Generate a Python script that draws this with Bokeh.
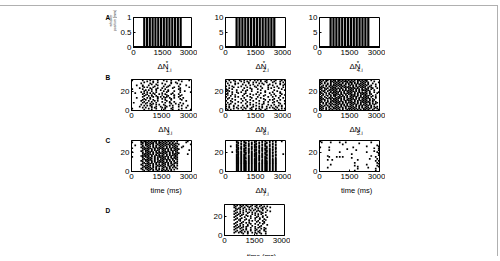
from bokeh.plotting import figure
from bokeh.layouts import column, row
from bokeh.models import Range1d, FixedTicker, Spacer
from bokeh.core.properties import value
from bokeh.embed import file_html
from bokeh.resources import INLINE

FONT = "Liberation Sans"

# ---------------- data ----------------
time_ticks = [0, 1500, 3000]
time_max = 3000
neuron_max = 32
raster_yticks = [0, 20]
bin_ms = 75  # each character of a raster row = one 75 ms bin

# whisker stimulation (row A)
pulse_onsets = [500, 645, 790, 935, 1080, 1225, 1370, 1515, 1660, 1805, 1950, 2095, 2240, 2385]
pulse_width = 110
amp_A1 = 1
amp_A2 = 10
amp_A3 = 10
yticks_A1 = [0, 0.5, 1]
yticks_A23 = [0, 5, 10]

panel_letters = ["A", "B", "C", "D"]
whisker_label = ["whisker", "position (mm)"]
time_label_text = "time (ms)"
delta_main = "ΔN"
subs_A = ["1,i", "2,i", "4,i"]
subs_B = ["3,i", "6,i", "5,i"]
sub_C2 = "7,i"

# spike rasters: rows from top neuron (31) down to neuron 1, 'o' = spike
raster_N3 = [
    "o......o.. ..o....o.. .o....o... .o......o.",
    ".......... o...o..... ...o...... ...o......",
    "........o. ....o..o.. ......o..o ..........",
    "......o... ..o....... o.....o... o.........",
    ".......... ...o..o... ..o....... ..o.......",
    "...o...o.. .o.....o.. .....o.... ......o...",
    ".......o.. .....o.... .o..o..... .o........",
    "........o. o...o..... ...o....o. ........o.",
    ".....o.... ..o....o.. o......o.. ..o.......",
    "o......o.. ...o..o... ..o....... .o........",
    ".........o .o....o..o ....o..... ..o.......",
    "........o. ...o...... .o..o...o. .....o....",
    "......o... o.....o... ...o...... ..o......o",
    "..o.....o. ..o.o..... o......o.. ..........",
    ".......o.. o....o..o. ..o...o... .o........",
    ".........o ...o...... o..o....o. ...o......",
    "........o. .o.o..o... ....o...o. ..o.......",
    ".......o.. ....o..o.o .o.o...... .o........",
    "...o...... o.o....o.. ..o..o..o. ....o.....",
    "........o. ..o....o.. o.....o... ..o.......",
    ".......o.o ....o..... ..o...o... ...o......",
    "......o... .o...o.o.. ...o...... ......o...",
    "........o. ...o...... o....o..o. ..........",
    ".o.....o.. o.....o... ..o..o.... ..o.......",
    ".........o ..o.o..... ......o..o ....o.....",
    "......o... ...o..o.o. .o........ .o........",
    "........o. o.o....... ..o..o.o.. ...o...o..",
    ".....o.... ...o..o..o ...o...... .o........",
    ".......o.o ...o.o.... o.o....o.. ......o...",
    "o......... .o....o... ..o...o... ...o......",
    "........o. ...o...... .o.....o.. .o.......o",
]

raster_N6 = [
    "..o..o...o ..o...o..o .o.o...o.. o..o...o.o",
    "o.....o... o...o..... ...o..o... ..o...o...",
    "...o...... ..o..o..o. o......o.. .o......o.",
    ".o....o.o. .....o.... ..o.o..... ...o..o...",
    "......o... .o......o. .....o...o ......o..o",
    "..o....... ...o..o... .o......o. .o......o.",
    "o...o..... o........o ...o...... ....o.....",
    ".....o..o. ....o..... o.......o. ..o.....o.",
    "..o....... ..o...o... ....o..... o....o....",
    "o...o..... .......o.. .o......o. .......o..",
    ".o.....o.. .o..o..... ...o...... ..o......o",
    "o.o....... ...o...o.. ......o... ....o.....",
    "....o..o.. o......... .o....o... .o....o...",
    ".o......o. ...o...... ...o.....o ......o...",
    "o...o..... ..o...o... o......... ..o....o..",
    ".o....o... ........o. ..o...o... o........o",
    "...o...... .o..o..... .....o.... ...o..o...",
    "o.....o.o. ......o... .o......o. .o........",
    "..o....... ..o....o.. ...o...... .....o..o.",
    ".o..o..... o......... o....o.... ..o.......",
    "......o... ...o..o... ......o..o .o....o...",
    "o..o...... .o......o. ..o....... ....o....o",
    "....o...o. ....o..... .....o..o. ..o.......",
    ".o........ o.....o... o......... .o...o....",
    "...o..o... ...o...... ..o..o.... ......o..o",
    "o.o....... ......o.o. ....o...o. ..o.......",
    ".....o..o. .o..o..... o......... o....o.o..",
    "o.o..o.... ....o...o. ..o.o..o.. ...o...o..",
    "..o....o.. o.o....o.. ....o....o .o..o.....",
    "o....o..o. ...o..o... o.o....o.. ..o....o.o",
    ".o.o...... .o.....o.. ...o..o... ...o.o....",
]

raster_N5 = [
    "o.o.oo.o.o o.oo.o.o.o .o.o.oo.o. oo..o.....",
    ".o..o..oo. o.o.o.ooo. o.o..o.o.o .o....o...",
    "o..o...o.o .o.o.o..o. oo.o.o..o. o.o......o",
    ".o.o.o.o.. o.o..o.o.o .o.o.o.o.o ..o..o....",
    "o....o.o.o .o.oo..o.o .o..o.o.o. o.o....o..",
    "..o.o..o.o o.o.o.o... o.o.o..o.o .o..o.....",
    ".o..o.o.o. .o.o.o.o.o ..o.o.o.o. o..o...o..",
    "o.o....o.o o...o.o.o. o.o..o.o.o ..o.o.....",
    ".o.o.o..o. o.o.o..o.o .o.o.o..o. o.o..o..o.",
    "o...o..o.o .o.o.o.o.. o.o.o.o.o. .o..o.....",
    ".o.o..o.o. o..o.o.o.o .o..o.o.oo o.o...o...",
    "..o..o.o.o .o.o..o.o. o.o.o.o... .o.o......",
    "o..o...o.o o.o.o.o..o .o.o..o.o. o..o..o..o",
    ".o..o.o.o. .o..o.o.o. o..o.o.o.o .o.o....o.",
    "o.o...o..o o.o.o..o.o .o.o.o..o. o...o.....",
    "..o.o..o.o .o.o.o.o.. o.o..o.o.o .o.o...o..",
    ".o...o.o.o o..o.o..o. .o.o.o.o.. o.o..o....",
    "o..o...o.. o.o.o.o.o. o.o.o..o.o .o..o..o..",
    ".o..o.o.o. .o.o..o.o. .o..o.o.o. o.o....o..",
    "o.o..o.o.o o.o.o.o..o o.o.o.o..o .o.o.o....",
    ".o.o...o.o .o..o.o.o. .o.o..o.o. o..o..o...",
    "o..o.o..o. o.o.o..o.o o..o.o.o.o .o.o.o....",
    ".o...o.o.o .o.o.o.o.. .o.o.o..o. o.o..o.o..",
    "o.o.o..o.. o.o..o.o.o o.o..o.o.o .o.o....o.",
    "..o.o.o.o. .o.o.o..o. .o.o.o.o.. o..o.o.o..",
    "o...o..o.o o.o.o.o.o. o.o.o..o.o .o.o..o...",
    ".o.o.o.o.. .o..o.o.o. .o..o.o.o. o.o.o.....",
    "o.o...o.o. o.o.o..o.o o.o.o.o.o. .o..o.o.o.",
    ".o..o.o..o .o.o.o.o.. .o.o..o.o. o.o.o..o..",
    "o.o.o..o.o o.o..o.o.o o.o.o.o..o .o.o..o.o.",
    ".o..o.o.o. .o.o.o..o. .o.o.o.o.o o.o..o...o",
]

raster_C1 = [
    "......o.oo .o.o.oo.o. o.o.o.o.o. o......o..",
    "o.....oo.o o.o.o.o.oo .o.o.o.o.. ......o...",
    ".......o.o .o.oo.o.o. o.o..o.o.o o.........",
    "......o..o o.o.o..o.o .o.oo.o.o. .o.......o",
    "..o....o.o .o..o.o.o. o.o..o.o.o ..........",
    ".......o.. o.o.o.o..o .o.o.o..o. o...o.....",
    "......o.o. .o..o.o.o. o..o.o.o.o ...o......",
    "o......o.o o.o..o.o.o .o.o..o.o. o.........",
    "........o. .o.o.o..o. o.o.o.o..o .o........",
    ".......o.o o..o.o.o.. .o..o.o.o. o.......o.",
    "......o..o .o.o..o.o. o.o.o..o.o ..........",
    "o......o.. o.o.o.o.o. .o.o.o.o.. o.........",
    ".......o.o .o..o..o.o o.o..o.o.o .o........",
    "........o. o.o.o.o.o. .o.o.o..o. o......o..",
    ".......o.o .o.o..o.o. o..o.o.o.o ..........",
    "......o.o. o..o.o.o.o .o.o..o.o. o.........",
    "o......o.o .o.o.o..o. o.o.o.o..o ..........",
    ".......o.. o.o..o.o.o .o..o.o.o. o.........",
    "........o. .o.o.o.o.. o.o.o..o.o ..........",
    ".......o.o o.o..o.o.o .o.o.o.o.. o.........",
    "......o..o .o.o.o..o. o..o.o..o. ..........",
    ".......o.. o..o.o.o.o .o.o..o.o. o.........",
    "........o. .o.o..o.o. o.o.o.o..o ..........",
    ".......o.o o.o.o.o... .o..o.o.o. o.........",
    "......o... .o..o.o.o. o.o.o..o.. ..........",
    ".......o.o o.o.o..o.o .o..o.o.o. o.........",
    "........o. .o..o.o.o. o.o..o..o. ..........",
    ".......o.o o.o.o.o... .o.o.o.o.o ..........",
    "......o..o .o.o..o.o. o..o.o.... o.........",
    ".......o.. o.o.o.o.o. .o.o..o.o. ..........",
    "........o. .o..o..o.. o.o.o.o... ..........",
]

raster_N7 = [
    ".......o.. o.o..o...o o...o.o..o .o.o...o..",
    ".......oo. ..oo...o.o ..o.o..o.o ...o......",
    "........o. o..o.o.o.. o.o...oo.. .o........",
    ".......o.. o.o..o.o.o o...o.o..o .o.o......",
    ".......oo. ..oo.o...o ..o.o.o..o ...o......",
    "...o...o.. o.o..o.o.o o.o...oo.o .o........",
    ".......oo. o..o...o.o o.o.o..o.. .o.o......",
    "........o. o.oo.o.o.. ..o.o.oo.o ...o......",
    ".......oo. o.o..o.o.o o...o.o..o .o.o......",
    ".......o.. ..oo.o...o o.o.o.oo.o .o........",
    ".......oo. o.o..o.o.o ..o.o..o.o ...o......",
    "....o..oo. o.oo.o.o.. o.o...oo.o .o.o......",
    "........o. o..o.o.o.o o.o.o.o..o .o........",
    ".......oo. o.oo...o.o o...o.oo.o ...o....o.",
    ".......oo. o.o..o.o.o o.o.o..o.o .o.o......",
    ".......o.. o.oo.o.o.o ..o.o.oo.o .o.o......",
    ".......oo. o.o..o.o.o o.o.o.o..o .o........",
    ".......oo. o.oo.o.o.. o.o.o.oo.o ...o......",
    ".......oo. o.oo.o.o.o o.o...oo.o .o.o......",
    ".......oo. o.o..o.o.o o.o.o.o..o .o.o......",
    ".......oo. o.oo.o.o.o o.o.o.oo.o .o.o......",
    ".......oo. o.oo.o.o.o o...o.oo.o .o.o......",
    ".......oo. o.oo.o.o.o o.o.o.oo.o .o.o......",
    ".......oo. o.oo.o.o.o o.o.o.oo.o .o.o......",
    ".......oo. o.oo.o.o.o o.o.o.oo.o .o.o......",
    ".......oo. o.oo.o.o.o o.o.o.oo.o .o.o......",
    ".......oo. o.oo.o.o.o o.o.o.oo.o .o.o......",
    ".......oo. o.oo.o.o.o o.o.o.oo.o .o.o......",
    ".......oo. o.oo.o.o.o o.o.o.oo.o .o.o......",
    ".......oo. o.oo.o.o.o o.o.o.oo.o .o.o......",
    ".......oo. o.oo.o.o.o o.o.o.oo.o .o.o......",
]

raster_C3 = [
    "o......... .......... .......... ..........",
    ".o.....o.. ...o...o.. .......... ....o.....",
    ".......... .......... ......o... ..........",
    ".......... .....o.... .......... ..........",
    ".......... .......... .......... ........o.",
    ".......... .......... .......... .o.......o",
    "o.....o... .......... ..o....... ..........",
    ".......... .......... .......... ......o..o",
    ".......... ........o. .......... ..........",
    "......o... .......... ....o..... .........o",
    ".......... .......... .......... ......o...",
    ".......... ...o...... .......... .o......o.",
    ".......... .......... .......... .........o",
    ".......... .......... .o........ ..........",
    ".......... .......... .......... .........o",
    ".....o.... .......... .......... ....o.....",
    "......o... .o.o.o.... .......... .......o..",
    ".......... .......... .o........ ..........",
    ".......... .......... .......... ...o....o.",
    ".....o..o. .......... .....o.... ..........",
    ".......... .......... .......... .......o.o",
    ".......... .......... .......... ..........",
    ".......... .......... ...o...... ........o.",
    ".......... .......... .......... .........o",
    ".......o.. .......... .......... .o........",
    ".......... .......... ...o...... ........o.",
    ".......... .......... .....o.... .........o",
    ".....o.... .......... .......... ..o.......",
    ".......... .......... .....o.... .......o..",
    ".......... .......... .......... ..........",
    ".......... .......... ...o...... .......o..",
]

raster_D = [
    "......o.o. o.o.o...o. .o..o..... ..........",
    ".......o.. .o...o.o.. o..o..o.o. ..........",
    "......o... o..o..o... .o...o.... o.........",
    ".......o.o ..o.....o. ..o.o..o.. ..........",
    "........o. o...o.o... o....o.... ..........",
    ".......o.. ..o....o.o ..o..o..o. ..........",
    "......o... o...o..... .o.o...... o.........",
    "........o. ..o...o.o. ....o..o.. ..........",
    ".......o.. o....o.... o....o.... ..........",
    "......o..o ..o.....o. ..o.o..... ..........",
    "........o. .o..o..... o......o.. ..........",
    ".......o.. o....o.o.. ..o..o.... ..........",
    "......o... ...o...... .o...o..o. ..........",
    "........o. .o.....o.. o..o...... ..........",
    ".......o.. o...o..... ...o..o... ..........",
    "......o..o ...o..o... o......o.. ..........",
    ".......... o.....o.o. ..o..o.... ..........",
    "........o. ..o....... .o....o... ..........",
    ".......o.. .o..o.o... ...o..o... ..........",
    "......o... o......o.. o....o.... ..........",
    "........o. ..o..o.... ..o.....o. ..........",
    ".......o.. o....o..o. ....o..... ..........",
    "......o..o ..o.o..... o..o...... ..........",
    "........o. .o.....o.. ..o...o... ..........",
    ".......o.. o...o..... o...o..o.. ..........",
    "......o... ..o.o..o.. .o....o... ..........",
    "........o. .o.....o.. o..o..o... ..........",
    ".......o.. o..o.o.... ..o....o.. ..........",
    "......o..o .o...o..o. o..o...... ..........",
    ".......... ..o..o.... .o..o..o.. ..........",
    ".......... .......... .......... ..........",
]


def parse_raster(rows):
    xs, ys = [], []
    n = len(rows)
    for i, r in enumerate(rows):
        r = r.replace(" ", "")
        neuron = n - i
        for c, ch in enumerate(r):
            if ch == "o":
                xs.append((c + 0.5) * bin_ms)
                ys.append(neuron)
    return xs, ys


# ---------------- helpers ----------------
TICK_PX = "8px"
FRAME_W = 60
RB = 6


def make_fig(width, height, left, top, bottom, ymax, yticks):
    p = figure(width=width, height=height,
               x_range=Range1d(0, time_max), y_range=Range1d(0, ymax),
               output_backend="svg", toolbar_location=None,
               min_border_left=left, min_border_right=RB,
               min_border_top=top, min_border_bottom=bottom)
    p.xgrid.visible = False
    p.ygrid.visible = False
    p.outline_line_color = "black"
    p.outline_line_alpha = 1.0
    p.outline_line_width = 1
    p.background_fill_color = "white"
    p.border_fill_color = "white"
    p.xaxis.ticker = FixedTicker(ticks=time_ticks)
    p.yaxis.ticker = FixedTicker(ticks=yticks)
    for ax in (p.xaxis[0], p.yaxis[0]):
        ax.major_tick_in = 2
        ax.major_tick_out = 0
        ax.minor_tick_line_color = None
        ax.axis_line_color = "black"
        ax.major_tick_line_color = "black"
        ax.major_label_text_font = FONT
        ax.major_label_text_font_size = TICK_PX
        ax.major_label_text_color = "black"
        ax.major_label_standoff = 2
    return p


def text_fig(width, height):
    p = figure(width=width, height=height, x_range=Range1d(0, width), y_range=Range1d(0, height),
               output_backend="svg", toolbar_location=None, min_border=0,
               x_axis_type=None, y_axis_type=None)
    p.outline_line_color = None
    p.background_fill_color = "white"
    p.border_fill_color = "white"
    return p


def put_text(p, x, y, txt, size, align="left", baseline="alphabetic", bold=False, angle=0.0, color="black"):
    p.text(x=[x], y=[y], text=[txt], text_font=value(FONT), text_font_size=f"{size}px",
           text_align=align, text_baseline=baseline, angle=angle,
           text_font_style="bold" if bold else "normal", text_color=color)


LAB_H = 13


def delta_fig(width, left, sub, height=LAB_H, star=False):
    p = text_fig(width, height)
    cx = left + FRAME_W / 2
    base = height - 7
    put_text(p, cx - 11, base, delta_main, 8)
    if star:
        put_text(p, cx + 0.5, base + 3.5, "*", 6)
    put_text(p, cx + 0.5, base - 3.3, sub, 5.5)
    return p


def time_fig(width, left, height=LAB_H, base=None, size=7.5):
    p = text_fig(width, height)
    if base is None:
        base = height - 7
    put_text(p, left + FRAME_W / 2, base, time_label_text, size, align="center")
    return p


def whisker_fig(width, left, amp, yticks, height, top, bottom):
    p = make_fig(width, height, left, top, bottom, amp, yticks)
    p.quad(left=pulse_onsets, right=[t + pulse_width for t in pulse_onsets],
           bottom=0, top=amp, fill_color="black", line_color=None)
    p.line(x=[0, time_max], y=[0, 0], line_color="black", line_width=3)
    return p


def raster_fig(rows, width, left, height, top, bottom):
    p = make_fig(width, height, left, top, bottom, neuron_max, raster_yticks)
    xs, ys = parse_raster(rows)
    p.scatter(x=xs, y=ys, marker="square", size=1.7, fill_color="black", line_color=None)
    return p


W_STD, L_STD = 94, 28

# ---------------- row A ----------------
# letter column 117 px wide, first panel left border 14 -> frame at x=131
WA0 = 117
LA1 = 14
WA1 = LA1 + FRAME_W + RB
hA, tA, bA = 53, 11, 12
rowA_h = hA + LAB_H
A1 = whisker_fig(WA1, LA1, amp_A1, yticks_A1, hA, tA, bA)
A2 = whisker_fig(W_STD, L_STD, amp_A2, yticks_A23, hA, tA, bA)
A3 = whisker_fig(W_STD, L_STD, amp_A3, yticks_A23, hA, tA, bA)
letA = text_fig(WA0, rowA_h)
put_text(letA, 105, rowA_h - 11, panel_letters[0], 6.5, bold=True)
put_text(letA, 110.5, rowA_h - 14, whisker_label[0], 3.5, align="center", baseline="middle",
         angle=1.5708, color="#333333")
put_text(letA, 114.5, rowA_h - 14, whisker_label[1], 3.5, align="center", baseline="middle",
         angle=1.5708, color="#333333")
rowA = row(letA,
           column(A1, delta_fig(WA1, LA1, subs_A[0], star=True)),
           column(A2, delta_fig(W_STD, L_STD, subs_A[1], star=True)),
           column(A3, delta_fig(W_STD, L_STD, subs_A[2], star=True)))

# ---------------- row B ----------------
WB0 = 112
LB1 = 131 - WB0
WB1 = LB1 + FRAME_W + RB
hB, tB, bB = 50, 7, 12
rowB_h = hB + LAB_H
B1 = raster_fig(raster_N3, WB1, LB1, hB, tB, bB)
B2 = raster_fig(raster_N6, W_STD, L_STD, hB, tB, bB)
B3 = raster_fig(raster_N5, W_STD, L_STD, hB, tB, bB)
letB = text_fig(WB0, rowB_h)
put_text(letB, 105, rowB_h - 5, panel_letters[1], 6.5, bold=True)
rowB = row(letB,
           column(B1, delta_fig(WB1, LB1, subs_B[0])),
           column(B2, delta_fig(W_STD, L_STD, subs_B[1])),
           column(B3, delta_fig(W_STD, L_STD, subs_B[2])))

# ---------------- row C ----------------
hC, tC, bC = 48, 5, 12
rowC_h = hC + LAB_H
C1 = raster_fig(raster_C1, WB1, LB1, hC, tC, bC)
C2 = raster_fig(raster_N7, W_STD, L_STD, hC, tC, bC)
C3 = raster_fig(raster_C3, W_STD, L_STD, hC, tC, bC)
letC = text_fig(WB0, rowC_h)
put_text(letC, 105, rowC_h - 5, panel_letters[2], 6.5, bold=True)
rowC = row(letC,
           column(C1, time_fig(WB1, LB1)),
           column(C2, delta_fig(W_STD, L_STD, sub_C2)),
           column(C3, time_fig(W_STD, L_STD)))

# ---------------- row D ----------------
hD, tD, bD = 51, 8, 12
labD_h = 9
rowD_h = hD + labD_h
D1 = raster_fig(raster_D, W_STD, L_STD, hD, tD, bD)
letD = text_fig(WB0, rowD_h)
put_text(letD, 105, rowD_h - 13.5, panel_letters[3], 6.5, bold=True)
rowD = row(letD, Spacer(width=WB1 - 1, height=rowD_h),
           column(D1, time_fig(W_STD, L_STD, labD_h, base=3.5, size=7)))

layout = column(rowA, rowB, rowC, rowD, width=498, margin=(5, 0, 0, 0),
                styles={"border-top": "1px solid #b0b0b0", "border-right": "1px solid #b0b0b0"})

open("out.html", "w").write(file_html(layout, INLINE))
